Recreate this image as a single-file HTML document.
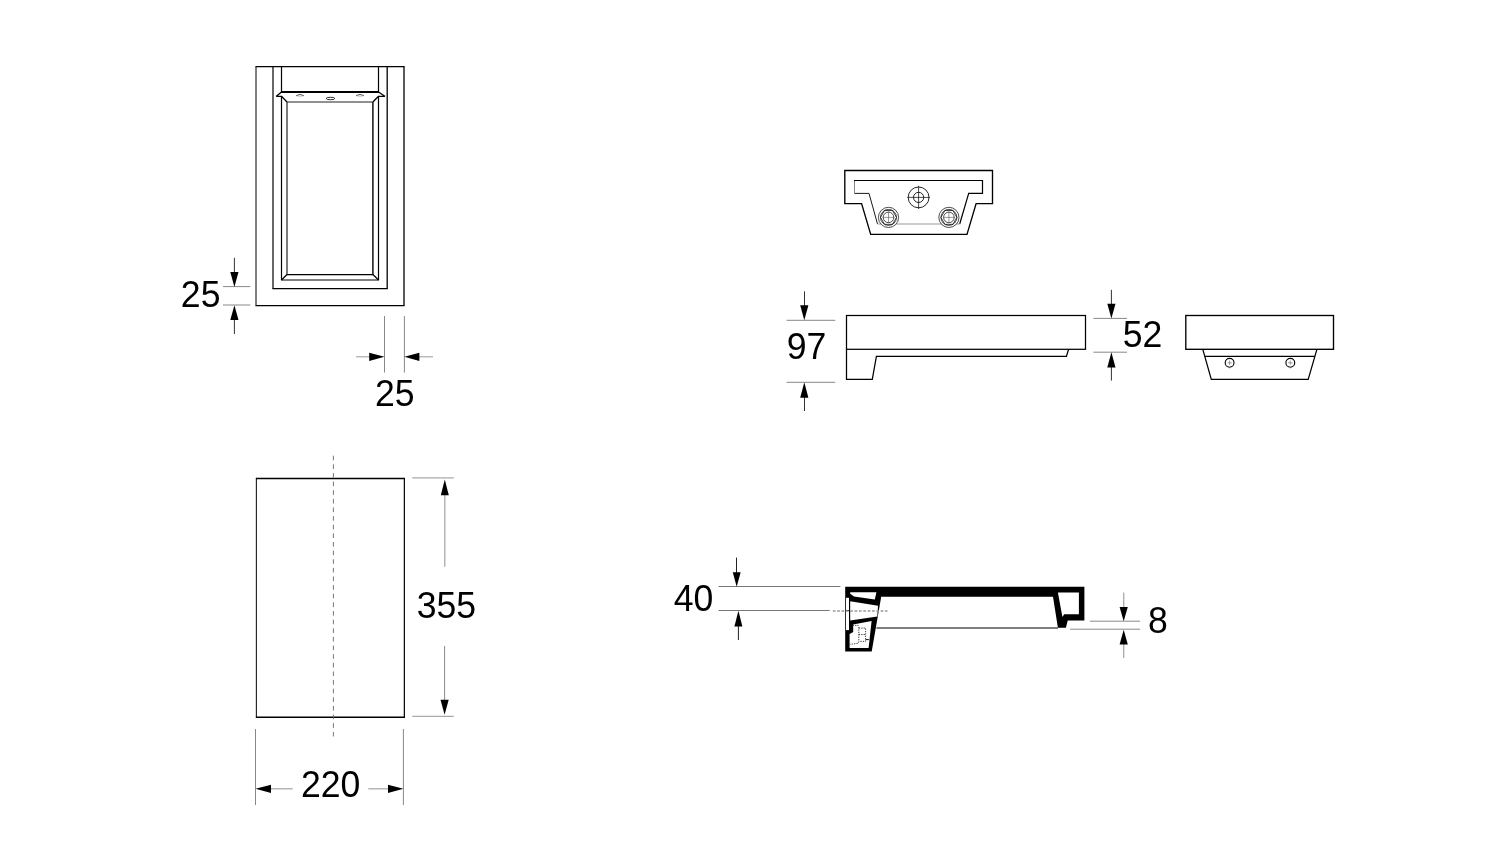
<!DOCTYPE html>
<html>
<head>
<meta charset="utf-8">
<style>
html,body{margin:0;padding:0;background:#fff;width:1500px;height:856px;overflow:hidden;}
svg{display:block;position:absolute;left:0;top:0;will-change:transform;}
text{font-family:"Liberation Sans",sans-serif;font-size:35.6px;fill:#000;}
</style>
</head>
<body>
<svg width="1500" height="856" viewBox="0 0 1500 856">
<rect x="0" y="0" width="1500" height="856" fill="#fff"/>

<!-- ========== Drawing 1: top-left plan view ========== -->
<g fill="none" stroke="#000" stroke-linejoin="miter" stroke-miterlimit="10">
  <line x1="256" y1="66.7" x2="256" y2="305.5" stroke-width="1.0"/>
  <line x1="404" y1="66.7" x2="404" y2="305.5" stroke-width="1.3"/>
  <line x1="255.5" y1="66.7" x2="404.6" y2="66.7" stroke-width="1.2"/>
  <line x1="255.5" y1="305.5" x2="404.6" y2="305.5" stroke-width="1.25"/>
  <line x1="273" y1="66.7" x2="273" y2="288.5" stroke-width="1.2"/>
  <line x1="387.2" y1="66.7" x2="387.2" y2="288.5" stroke-width="1.3"/>
  <line x1="272.4" y1="288.5" x2="387.8" y2="288.5" stroke-width="1.25"/>
  <line x1="281.5" y1="66.7" x2="281.5" y2="92" stroke-width="1.2"/>
  <line x1="378.5" y1="66.7" x2="378.5" y2="92" stroke-width="1.2"/>
  <line x1="281" y1="92" x2="379" y2="92" stroke-width="1.8"/>
  <polyline points="281.5,92 276.3,96.3 281.5,96.3 287,102" stroke-width="1.3" stroke-linejoin="bevel"/>
  <polyline points="378.5,92 384.9,96.3 378.5,96.3 372.9,102" stroke-width="1.3" stroke-linejoin="bevel"/>
  <line x1="281.5" y1="96.3" x2="281.5" y2="280" stroke-width="1.2"/>
  <line x1="378.5" y1="96.3" x2="378.5" y2="280" stroke-width="1.2"/>
  <line x1="281" y1="280" x2="379" y2="280" stroke-width="1.2"/>
  <line x1="281.5" y1="280" x2="287" y2="274.5" stroke-width="1.2"/>
  <line x1="378.5" y1="280" x2="372.9" y2="274.5" stroke-width="1.2"/>
  <line x1="286.5" y1="274.5" x2="373.4" y2="274.5" stroke-width="1.25"/>
  <line x1="287" y1="102" x2="372.9" y2="102" stroke-width="1.2" stroke="#222"/>
  <line x1="287" y1="102" x2="287" y2="274.5" stroke-width="1.2" stroke="#222"/>
  <line x1="372.9" y1="102" x2="372.9" y2="274.5" stroke-width="1.5" stroke="#111"/>
</g>
<g fill="none" stroke="#333" stroke-width="0.9">
  <path d="M296.2,95.6 Q300,93.4 303.8,95.6"/>
  <path d="M356.2,95.6 Q360,93.4 363.8,95.6"/>
  <ellipse cx="330.5" cy="98.5" rx="4.3" ry="1.2" stroke="#111"/>
</g>
<g fill="none" stroke="#bbb" stroke-width="0.6">
  <path d="M296.5,96 Q300,97.5 303.5,96"/>
  <path d="M356.5,96 Q360,97.5 363.5,96"/>
</g>

<!-- 25 vertical -->
<g stroke="#888" stroke-width="1">
  <line x1="223" y1="286.6" x2="250.3" y2="286.6"/>
  <line x1="223" y1="305" x2="250.3" y2="305"/>
</g>
<g stroke="#333" stroke-width="1">
  <line x1="234.4" y1="257.8" x2="234.4" y2="273"/>
  <line x1="234.4" y1="319" x2="234.4" y2="334"/>
</g>
<g fill="#000">
  <polygon points="230.30,272 238.50,272 234.4,287"/>
  <polygon points="230.30,320 238.50,320 234.4,305.2"/>
</g>
<text text-anchor="middle" transform="translate(200.65,306.9) scale(1,1.03)">25</text>

<!-- 25 horizontal -->
<g stroke="#888" stroke-width="1">
  <line x1="384.5" y1="316" x2="384.5" y2="372.5"/>
  <line x1="404.4" y1="316" x2="404.4" y2="372.5"/>
</g>
<g stroke="#aaa" stroke-width="1.2">
  <line x1="356" y1="356.8" x2="370" y2="356.8"/>
  <line x1="418" y1="356.8" x2="433" y2="356.8"/>
</g>
<g fill="#000">
  <polygon points="369.2,352.70 369.2,360.90 384.5,356.8"/>
  <polygon points="419.4,352.70 419.4,360.90 404.4,356.8"/>
</g>
<text text-anchor="middle" transform="translate(394.8,406.2) scale(1,1.03)">25</text>

<!-- ========== Drawing 2: bottom-left rect ========== -->
<g fill="none" stroke="#000">
  <line x1="256.35" y1="477.9" x2="256.35" y2="717.9" stroke-width="1.0"/>
  <line x1="404.35" y1="477.9" x2="404.35" y2="717.9" stroke-width="1.2"/>
  <line x1="255.9" y1="478.5" x2="404.9" y2="478.5" stroke-width="1.3"/>
  <line x1="255.9" y1="717.3" x2="404.9" y2="717.3" stroke-width="1.5"/>
</g>
<line x1="333.4" y1="455.7" x2="333.4" y2="737" stroke="#666" stroke-width="0.9" stroke-dasharray="4.6,4.03"/>

<!-- 355 -->
<g stroke="#aaa" stroke-width="1.2">
  <line x1="412.2" y1="477.8" x2="453.9" y2="477.8"/>
  <line x1="412.2" y1="716.4" x2="453.9" y2="716.4"/>
</g>
<g stroke="#aaa" stroke-width="1.3">
  <line x1="444.8" y1="494" x2="444.8" y2="566.7"/>
</g>
<g stroke="#888" stroke-width="1">
  <line x1="444.6" y1="646" x2="444.6" y2="701"/>
</g>
<g fill="#000">
  <polygon points="440.80,495.3 448.80,495.3 444.8,479.5"/>
  <polygon points="440.50,699.7 448.70,699.7 444.6,714.8"/>
</g>
<text text-anchor="middle" transform="translate(446.45,617.9) scale(1,1.03)">355</text>

<!-- 220 -->
<g stroke="#888" stroke-width="1">
  <line x1="255.5" y1="729" x2="255.5" y2="805"/>
  <line x1="403.4" y1="729" x2="403.4" y2="805"/>
</g>
<g stroke="#aaa" stroke-width="1.3">
  <line x1="270" y1="788.8" x2="292.7" y2="788.8"/>
  <line x1="368.3" y1="788.8" x2="389" y2="788.8"/>
</g>
<g fill="#000">
  <polygon points="271,784.70 271,792.90 255.5,788.8"/>
  <polygon points="388,784.70 388,792.90 403.4,788.8"/>
</g>
<text text-anchor="middle" transform="translate(330.6,797.2) scale(1,1.03)">220</text>

<!-- ========== Drawing 3: top-right small part ========== -->
<path d="M844.8,170.45 L992.5,170.45 L992.5,203.6 L976.1,203.6 L967,234.4 L870.7,234.4 L861.6,203.6 L844.8,203.6 Z" fill="none" stroke="#000" stroke-width="1.35"/>
<path d="M877.5,224 L869,193.4 L854.5,193.4" fill="none" stroke="#000" stroke-width="0.9"/>
<line x1="854.5" y1="193.8" x2="854.5" y2="180.2" stroke="#888" stroke-width="1"/>
<path d="M854,180.5 L982.5,180.5 L982.5,193.4 L968.7,193.4 L959.7,224" fill="none" stroke="#000" stroke-width="1.2"/>
<line x1="877.5" y1="224" x2="959.7" y2="224" stroke="#999" stroke-width="1"/>
<g fill="none" stroke="#000" stroke-width="0.85">
  <circle cx="918.6" cy="197.4" r="10.4"/>
  <circle cx="918.6" cy="197.4" r="5.1"/>
  <line x1="907.3" y1="197.4" x2="929.9" y2="197.4" stroke-width="0.7"/>
  <line x1="918.6" y1="185.8" x2="918.6" y2="209" stroke-width="0.7"/>
</g>
<g fill="none" stroke="#111" stroke-width="0.75">
  <circle cx="888.5" cy="217.4" r="10.1" fill="#fff"/>
  <circle cx="888.5" cy="217.4" r="8.0"/>
  <polygon points="896.50,217.40 892.50,224.33 884.50,224.33 880.50,217.40 884.50,210.47 892.50,210.47" stroke-width="0.8"/>
  <circle cx="888.5" cy="217.4" r="5.3"/>
  <line x1="882.7" y1="217.4" x2="894.3" y2="217.4" stroke="#555" stroke-width="0.6"/>
  <line x1="888.5" y1="211.70000000000002" x2="888.5" y2="223.1" stroke="#555" stroke-width="0.6"/>
</g>
<g fill="none" stroke="#111" stroke-width="0.75">
  <circle cx="948.9" cy="217.4" r="10.1" fill="#fff"/>
  <circle cx="948.9" cy="217.4" r="8.0"/>
  <polygon points="956.90,217.40 952.90,224.33 944.90,224.33 940.90,217.40 944.90,210.47 952.90,210.47" stroke-width="0.8"/>
  <circle cx="948.9" cy="217.4" r="5.3"/>
  <line x1="943.1" y1="217.4" x2="954.6999999999999" y2="217.4" stroke="#555" stroke-width="0.6"/>
  <line x1="948.9" y1="211.70000000000002" x2="948.9" y2="223.1" stroke="#555" stroke-width="0.6"/>
</g>

<!-- ========== Drawing 4: side view ========== -->
<g fill="none" stroke="#000" stroke-width="1.25">
  <rect x="846.5" y="315.5" width="239" height="33.8"/>
  <polyline points="846.5,349.3 846.5,379.4 872.3,379.4 876.4,356.4 1066.4,356.4 1068.6,349.3"/>
</g>
<!-- 97 -->
<g stroke="#888" stroke-width="1">
  <line x1="786.5" y1="320.3" x2="835.3" y2="320.3"/>
  <line x1="786.5" y1="382.3" x2="835.3" y2="382.3"/>
</g>
<g stroke="#333" stroke-width="1">
  <line x1="804.5" y1="291.3" x2="804.5" y2="306"/>
  <line x1="804.5" y1="397" x2="804.5" y2="411"/>
</g>
<g fill="#000">
  <polygon points="800.20,305.3 808.40,305.3 804.3,320.3"/>
  <polygon points="800.20,397.8 808.40,397.8 804.3,382.3"/>
</g>
<text text-anchor="middle" transform="translate(806.5,359.3) scale(1,1.03)">97</text>
<!-- 52 -->
<g stroke="#888" stroke-width="1">
  <line x1="1093.4" y1="318.4" x2="1127" y2="318.4"/>
  <line x1="1093.4" y1="352.2" x2="1127" y2="352.2"/>
</g>
<g stroke="#333" stroke-width="1">
  <line x1="1111.4" y1="289.8" x2="1111.4" y2="304"/>
  <line x1="1111.4" y1="367" x2="1111.4" y2="380.6"/>
</g>
<g fill="#000">
  <polygon points="1107.30,303.7 1115.50,303.7 1111.4,318.4"/>
  <polygon points="1107.30,367.5 1115.50,367.5 1111.4,352.2"/>
</g>
<text text-anchor="middle" transform="translate(1142.6,346.9) scale(1,1.03)">52</text>

<!-- ========== Drawing 5: end view ========== -->
<g fill="none" stroke="#000" stroke-width="1.25">
  <rect x="1185.8" y="315.5" width="147.7" height="33.8" stroke-width="1.35"/>
  <polyline points="1202.8,349.4 1211.3,379.4 1308.2,379.4 1316.9,349.4"/>
  <line x1="1205" y1="356.4" x2="1315" y2="356.4"/>
</g>
<g fill="none" stroke="#000" stroke-width="1.1">
  <circle cx="1229.6" cy="362.8" r="4.4"/>
  <circle cx="1290.3" cy="362.8" r="4.4"/>
</g>
<g stroke="#666" stroke-width="0.6">
  <line x1="1227.3" y1="362.8" x2="1231.9" y2="362.8"/>
  <line x1="1229.6" y1="360.5" x2="1229.6" y2="365.1"/>
  <line x1="1288" y1="362.8" x2="1292.6" y2="362.8"/>
  <line x1="1290.3" y1="360.5" x2="1290.3" y2="365.1"/>
</g>
<g stroke="#aaa" stroke-width="0.6">
  <line x1="1223.8" y1="362.8" x2="1224.8" y2="362.8"/>
  <line x1="1234.4" y1="362.8" x2="1235.4" y2="362.8"/>
  <line x1="1229.6" y1="367.6" x2="1229.6" y2="368.8"/>
  <line x1="1284.5" y1="362.8" x2="1285.5" y2="362.8"/>
  <line x1="1295.1" y1="362.8" x2="1296.1" y2="362.8"/>
  <line x1="1290.3" y1="367.6" x2="1290.3" y2="368.8"/>
</g>

<!-- ========== Drawing 6: section ========== -->
<path d="M845.2,586.8 L1084.4,586.8 L1084.4,620.6 L1067.7,620.6 L1065.9,627.7 L1057.9,627.7 L1053,596.8 L881.2,596.8 L871.7,651.6 L845.2,651.6 Z" fill="#000"/>
<g fill="#fff">
  <polygon points="850.2,592.3 876.4,592.3 874.8,599.5 854,596.4 850.2,593.8"/>
  <polygon points="850.2,601.3 878,605.8 877.3,616.4 850.2,620.4"/>
  <polygon points="853.2,624.6 871.6,621 868.6,648 849.6,648 849.6,634 853.2,632"/>
  <rect x="846" y="597.8" width="3" height="32.3"/>
  <polygon points="1057.9,592.6 1078.9,592.6 1078.9,614.3 1064.2,614.3 1062.4,617.1"/>
</g>
<line x1="846" y1="610.5" x2="849" y2="610.5" stroke="#000" stroke-width="1"/>
<g fill="none" stroke="#444" stroke-width="1" stroke-dasharray="1.3,1.1">
  <polyline points="852.7,625.4 858.1,625.4 858.8,627 858.8,641.4 858.1,643.3 849.3,644.4"/>
  <polyline points="858.8,628.1 865.6,628.1 865.6,641.4 859.2,641.4"/>
  <line x1="858.8" y1="634.5" x2="865.6" y2="634.5"/>
</g>
<line x1="865.6" y1="639.6" x2="868.8" y2="639.6" stroke="#111" stroke-width="1"/>
<line x1="876.4" y1="627.9" x2="1058" y2="627.9" stroke="#555" stroke-width="1.5"/>

<!-- 40 -->
<g stroke="#777" stroke-width="1">
  <line x1="718.5" y1="586.5" x2="840.4" y2="586.5"/>
  <line x1="718.5" y1="610.5" x2="829.7" y2="610.5"/>
</g>
<g stroke="#222" stroke-width="1">
  <line x1="736.5" y1="557.6" x2="736.5" y2="573"/>
  <line x1="738.4" y1="626" x2="738.4" y2="640"/>
</g>
<line x1="832.8" y1="611" x2="887.5" y2="611" stroke="#999" stroke-width="1.6" stroke-dasharray="2.75,1.6"/>
<g fill="#000">
  <polygon points="732.75,572.2 740.65,572.2 736.7,586.8"/>
  <polygon points="734.40,626.5 742.40,626.5 738.4,610.8"/>
</g>
<text text-anchor="middle" transform="translate(693.45,610.7) scale(1,1.03)">40</text>

<!-- 8 -->
<g stroke="#888" stroke-width="1">
  <line x1="1089.9" y1="621.2" x2="1140.1" y2="621.2"/>
  <line x1="1070.1" y1="629.2" x2="1140.1" y2="629.2"/>
</g>
<g stroke="#aaa" stroke-width="1.3">
  <line x1="1123.7" y1="592.4" x2="1123.7" y2="608"/>
  <line x1="1123.7" y1="643" x2="1123.7" y2="658"/>
</g>
<g fill="#000">
  <polygon points="1119.60,607 1127.80,607 1123.7,621.2"/>
  <polygon points="1119.60,644.4 1127.80,644.4 1123.7,629.7"/>
</g>
<text text-anchor="middle" transform="translate(1158,632.5) scale(1,1.03)">8</text>

</svg>
</body>
</html>
